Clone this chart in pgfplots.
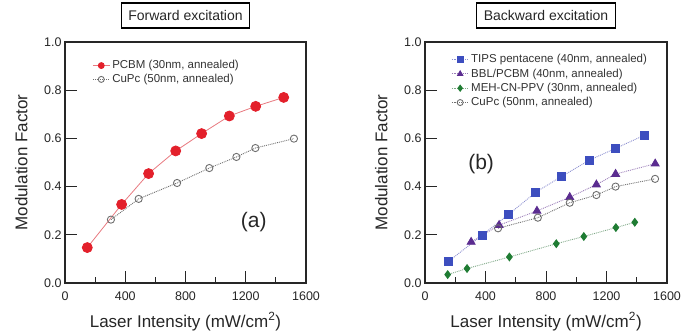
\documentclass[border=0pt]{standalone}
\usepackage{pgfplots}
\pgfplotsset{compat=1.18}
\usepackage{fontspec}
\setmainfont{Liberation Sans}
\definecolor{pred}{HTML}{E3202B}
\definecolor{predl}{HTML}{E87A80}
\definecolor{cgray}{HTML}{6E6E6E}
\definecolor{tblue}{HTML}{3D4EBF}
\definecolor{tbluel}{HTML}{8C8FD0}
\definecolor{bpurp}{HTML}{5B2C90}
\definecolor{bpurpl}{HTML}{9A7DB8}
\definecolor{mgreen}{HTML}{1F7C33}
\definecolor{mgreenl}{HTML}{7FA887}
\pgfplotsset{
  myaxis/.style={
    scale only axis, anchor=south west,
    xmin=0, xmax=1600, ymin=0, ymax=1.0,
    xtick={0,400,800,1200,1600}, minor x tick num=1,
    ytick={0,0.2,0.4,0.6,0.8,1.0},
    scaled y ticks=false, scaled x ticks=false,
    /pgf/number format/assume math mode=true,
    tick pos=left,
    major tick length=12pt, minor tick length=6pt,
    axis line style={line width=1.2pt, black!85},
    every tick/.style={line width=0.9pt, black!85},
    tick label style={font=\fontsize{12.5}{14}\selectfont, text=black!85},
    xticklabel style={yshift=-5.5pt, /pgf/number format/1000 sep={}},
    yticklabel style={/pgf/number format/fixed, /pgf/number format/fixed zerofill, /pgf/number format/precision=1},
    label style={font=\fontsize{17}{19}\selectfont, text=black!85},
    xlabel={Laser Intensity (mW/cm\textsuperscript{2})},
    ylabel={Modulation Factor},
    xlabel style={at={(axis description cs:0.5,-0.183)}, anchor=base},
    ylabel style={at={(axis description cs:-0.156,0.5)}, anchor=base},
    title style={at={(axis description cs:0.5,1)}, anchor=center, yshift=20.5pt,
      draw, line width=1.2pt, font=\fontsize{14}{16}\selectfont, text=black!85,
      minimum height=25pt, inner xsep=7pt},
    legend style={draw=none, fill=none, font=\fontsize{11.5}{13}\selectfont, text=black!80,
      anchor=north west},
    legend image post style={mark size=3pt},
    legend cell align=left,
  }
}
\begin{document}
\begin{tikzpicture}[x=1pt,y=1pt]
\path[use as bounding box] (0,0) rectangle (684,331);
\begin{axis}[myaxis, at={(65pt,48pt)}, width=241pt, height=241pt,
  title={Forward excitation},
  legend style={at={(axis description cs:0.1,0.94)}, row sep=0pt}]
\addplot[predl, line width=0.8pt, mark=*, mark size=5pt, mark options={solid, fill=pred, draw=pred}]
 coordinates {(148,0.147)(376,0.326)(555,0.454)(735,0.548)(907,0.620)(1091,0.693)(1266,0.733)(1452,0.770)};
\addlegendentry{PCBM (30nm, annealed)}
\addplot[cgray, densely dotted, line width=0.9pt, mark=o, mark size=3.6pt, mark options={solid, fill=white, draw=cgray}]
 coordinates {(305,0.263)(489,0.349)(744,0.415)(958,0.477)(1138,0.523)(1264,0.560)(1520,0.599)};
\addlegendentry{CuPc (50nm, annealed)}
\node[font=\fontsize{21}{24}\selectfont, text=black!85] at (axis cs:1253,0.253) {(a)};
\end{axis}
\begin{axis}[myaxis, at={(425pt,48pt)}, width=242pt, height=241pt,
  title={Backward excitation},
  legend style={at={(axis description cs:0.095,0.965)}, row sep=0.5pt}]
\addplot[tbluel, densely dotted, line width=0.9pt, mark=square*, mark size=4pt, mark options={solid, fill=tblue, draw=tblue}]
 coordinates {(152,0.088)(377,0.198)(554,0.285)(733,0.377)(903,0.442)(1088,0.510)(1261,0.559)(1450,0.613)};
\addlegendentry{TIPS pentacene (40nm, annealed)}
\addplot[bpurpl, densely dotted, line width=0.9pt, mark=triangle*, mark size=4.5pt, mark options={solid, fill=bpurp, draw=bpurp}]
 coordinates {(305,0.170)(490,0.240)(740,0.299)(957,0.356)(1133,0.408)(1260,0.452)(1522,0.495)};
\addlegendentry{BBL/PCBM (40nm, annealed)}
\addplot[mgreenl, densely dotted, line width=0.9pt, mark=diamond*, mark size=3.8pt, mark options={solid, fill=mgreen, draw=mgreen}]
 coordinates {(150,0.035)(278,0.060)(558,0.108)(868,0.163)(1050,0.193)(1262,0.230)(1387,0.252)};
\addlegendentry{MEH-CN-PPV (30nm, annealed)}
\addplot[cgray, densely dotted, line width=0.9pt, mark=o, mark size=3.6pt, mark options={solid, fill=white, draw=cgray}]
 coordinates {(483,0.227)(746,0.271)(957,0.333)(1133,0.365)(1260,0.400)(1521,0.432)};
\addlegendentry{CuPc (50nm, annealed)}
\node[font=\fontsize{21}{24}\selectfont, text=black!85] at (axis cs:371,0.493) {(b)};
\end{axis}
\end{tikzpicture}
\end{document}
